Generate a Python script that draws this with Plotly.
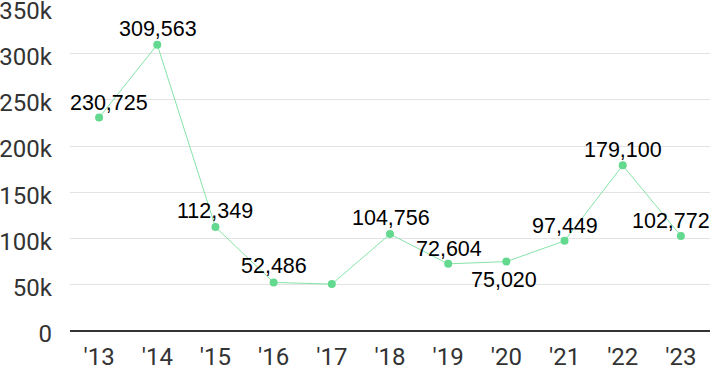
import plotly.graph_objects as go

years = ["'13", "'14", "'15", "'16", "'17", "'18", "'19", "'20", "'21", "'22", "'23"]
values = [230725, 309563, 112349, 52486, 50700, 104756, 72604, 75020, 97449, 179100, 102772]
labels = ["230,725", "309,563", "112,349", "52,486", "", "104,756", "72,604", "75,020", "97,449", "179,100", "102,772"]
label_dx = [10, 1, 0, 0, 0, 1, 1, -2, 0, 0, -10]
label_dy = [15, 16, 16, 16, 0, 16, 15, -18, 15, 15, 15]
y_ticks = [0, 50000, 100000, 150000, 200000, 250000, 300000, 350000]
y_tick_text = ["0", "50k", "100k", "150k", "200k", "250k", "300k", "350k"]

fig = go.Figure()
fig.add_trace(go.Scatter(
    x=years, y=values, mode="lines+markers",
    line=dict(color="#86e3aa", width=1),
    marker=dict(color="#63d88f", size=8),
    hoverinfo="skip", cliponaxis=False,
))

for x, y, t, dx, dy in zip(years, values, labels, label_dx, label_dy):
    if not t:
        continue
    fig.add_annotation(x=x, y=y, text=t, showarrow=False, xshift=dx, yshift=dy,
                       font=dict(family="Liberation Sans", size=21.5, color="#000000"))

fig.update_layout(
    width=710, height=371,
    margin=dict(l=70, r=0, t=7, b=40, autoexpand=False),
    paper_bgcolor="white", plot_bgcolor="white",
    showlegend=False,
    xaxis=dict(type="category", range=[-0.5, 10.5], showgrid=False, showline=False,
               zeroline=False, ticks="", ticklabelstandoff=9, automargin=False,
               tickfont=dict(family="Roboto", size=24, color="#333333")),
    yaxis=dict(range=[0, 350300], tickvals=y_ticks, ticktext=y_tick_text,
               showgrid=True, gridcolor="#e3e3e3", gridwidth=1,
               zeroline=True, zerolinecolor="#333333", zerolinewidth=1.5,
               showline=False, ticks="", ticklabelstandoff=17, ticklabelshift=3,
               ticklabeloverflow="allow", automargin=False,
               tickfont=dict(family="Roboto", size=24, color="#333333")),
)

fig.write_html("out.html", config={"displayModeBar": False},
               post_script="document.body.style.margin='0';document.body.style.padding='0';")
